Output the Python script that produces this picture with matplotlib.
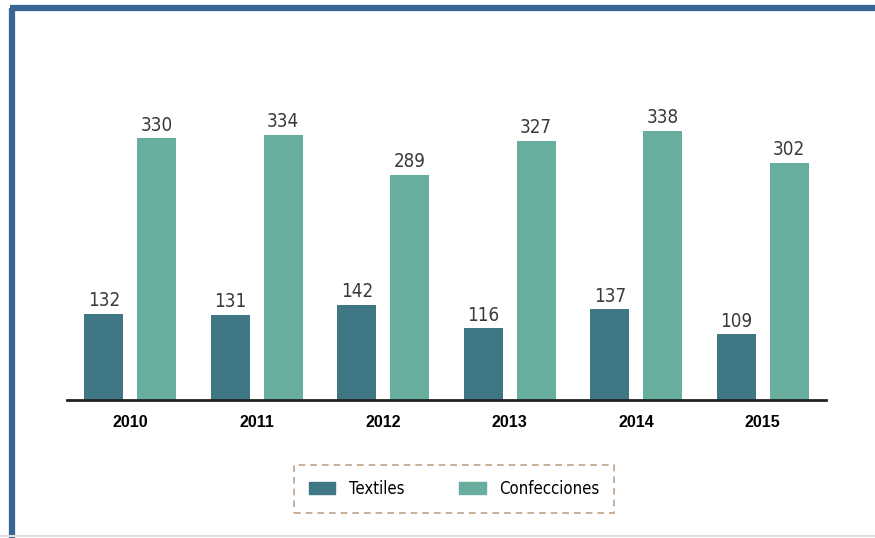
import matplotlib.pyplot as plt
from matplotlib.lines import Line2D
from matplotlib.patches import Patch
import numpy as np

years = ['2010', '2011', '2012', '2013', '2014', '2015']
textiles = [132, 131, 142, 116, 137, 109]
confecciones = [330, 334, 289, 327, 338, 302]

C_TEX = '#3F7884'
C_CON = '#67AE9F'
NARROW = dict(family='DejaVu Sans', stretch='condensed')

fig = plt.figure(figsize=(8.75, 5.38), dpi=100)
ax = fig.add_axes([67/875, 138/538, 759/875, 324/538])

x = np.arange(len(years))
off = 0.209
w = 0.308
b1 = ax.bar(x - off, textiles, w, color=C_TEX)
b2 = ax.bar(x + off, confecciones, w, color=C_CON)

for bars in (b1, b2):
    for r in bars:
        ax.text(r.get_x() + r.get_width()/2, r.get_height() + 4, str(int(r.get_height())),
                ha='center', va='bottom', fontsize=13.5, color='#3A3A3A', **NARROW)

ax.set_xlim(-0.5, 5.5)
ax.set_ylim(35, 400)
ax.set_xticks(x)
ax.set_xticklabels(years, fontsize=11.5, fontweight='bold', family=['Liberation Sans', 'DejaVu Sans'])
ax.tick_params(axis='x', length=0, pad=11)
ax.set_yticks([])
for s in ['top', 'right', 'left']:
    ax.spines[s].set_visible(False)
ax.spines['bottom'].set_linewidth(2)
ax.spines['bottom'].set_color('#222222')

handles = [Patch(color=C_TEX, label='Textiles'), Patch(color=C_CON, label='Confecciones')]
leg = fig.legend(handles=handles, loc='center', bbox_to_anchor=(454/875, 1 - 489/538),
                 ncol=2, frameon=True, fancybox=False,
                 prop={'family': 'DejaVu Sans', 'stretch': 'condensed', 'size': 12},
                 handlelength=1.6, handleheight=0.7, columnspacing=3.3, borderpad=0.9,
                 handletextpad=0.8, borderaxespad=0)
fr = leg.get_frame()
fr.set_edgecolor('#B08B6B')
fr.set_linestyle((0, (4, 3)))
fr.set_linewidth(1.2)

# outer blue frame (left and top), light grey bottom edge
fig.add_artist(Line2D([12/875, 12/875], [0, 1 - 8/538], color='#3A6494', lw=4.5, solid_capstyle='butt'))
fig.add_artist(Line2D([10/875, 1], [1 - 8/538, 1 - 8/538], color='#3A6494', lw=4.5, solid_capstyle='butt'))
fig.add_artist(Line2D([0, 1], [2/538, 2/538], color='#E0E0E0', lw=1.5))

fig.savefig('out.png', dpi=100)
